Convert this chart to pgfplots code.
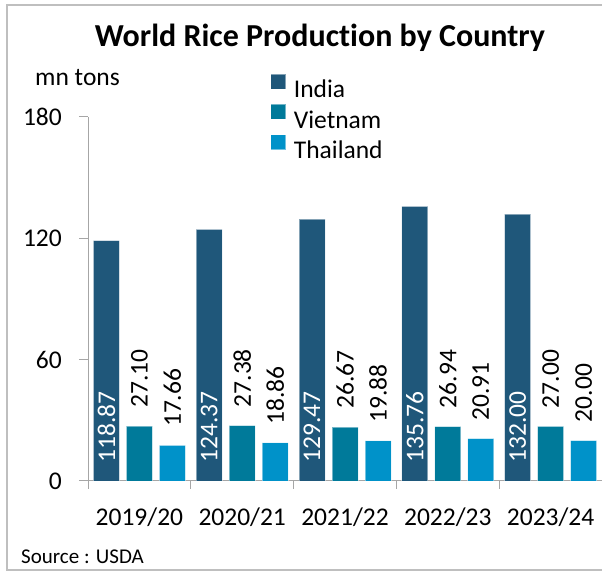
\documentclass[border=0pt]{standalone}
\usepackage{fontspec}
\setmainfont{Carlito}[Ligatures=NoCommon]
\usepackage{pgfplots}
\pgfplotsset{compat=1.18}
\definecolor{cIndia}{RGB}{31,87,122}
\definecolor{cViet}{RGB}{0,122,154}
\definecolor{cThai}{RGB}{0,146,201}
\definecolor{axgray}{RGB}{166,166,166}
\definecolor{frgray}{RGB}{191,191,191}
\newcommand\bigf{\fontsize{25.5bp}{30bp}\selectfont}
\pgfplotsset{
  sq/.style={legend image code/.code={\fill[##1] (0bp,1bp) rectangle (15bp,16bp);}},
  lab/.style={nodes near coords={\pgfmathprintnumber[fixed,fixed zerofill,precision=2,assume math mode=true]{\pgfplotspointmeta}}},
}
\begin{document}
\begin{tikzpicture}
\useasboundingbox (0,0) rectangle (602bp,572bp);
\draw[frgray, line width=2bp] (612bp,567bp) -- (7bp,567bp) -- (7bp,2bp) -- (612bp,2bp);
\begin{axis}[
  at={(88bp,91bp)}, anchor=south west,
  scale only axis, width=514bp, height=364bp,
  xmin=-0.5, xmax=4.5, ymin=0, ymax=180,
  enlargelimits=false, clip=false,
  ytick={0,60,120,180},
  xtick={0,1,2,3,4},
  xticklabels={2019/20,2020/21,2021/22,2022/23,2023/24},
  minor xtick={-0.5,0.5,1.5,2.5,3.5,4.5},
  axis lines*=left,
  axis line style={draw=axgray, line width=1bp, -},
  tick style={draw=axgray, line width=1bp},
  tick align=outside,
  major tick length=9bp, minor tick length=8bp,
  major x tick style={draw=none},
  /pgf/number format/assume math mode=true,
  tick label style={font=\bigf, text=black},
  yticklabel style={inner sep=0pt, xshift=-17bp},
  xticklabel style={inner sep=0pt, yshift=-18bp},
  ybar, bar width=26bp,
  legend style={draw=none, fill=none, font=\bigf, inner sep=0pt,
    at={(axis description cs:0.354,1.12)}, anchor=north west,
    column sep=8bp, row sep=4.5bp, nodes={inner sep=0pt}},
  legend cell align=left,
]
\addplot[fill=cIndia, draw=white, draw opacity=0.45, line width=0.75bp, bar shift=-33bp, sq, lab,
  visualization depends on=rawy\as\rawy,
  every node near coord/.append style={shift={(axis direction cs:0,-\rawy)}, yshift=18bp, rotate=90, anchor=west, inner sep=0pt, font=\bigf, text=white}]
  coordinates {(0,118.87) (1,124.37) (2,129.47) (3,135.76) (4,132.00)};
\addlegendentry{India}
\addplot[fill=cViet, draw=white, draw opacity=0.45, line width=0.75bp, bar shift=0bp, sq, lab,
  every node near coord/.append style={yshift=18bp, rotate=90, anchor=west, inner sep=0pt, font=\bigf, text=black}]
  coordinates {(0,27.10) (1,27.38) (2,26.67) (3,26.94) (4,27.00)};
\addlegendentry{Vietnam}
\addplot[fill=cThai, draw=white, draw opacity=0.45, line width=0.75bp, bar shift=33bp, sq, lab,
  every node near coord/.append style={yshift=18bp, rotate=90, anchor=west, inner sep=0pt, font=\bigf, text=black}]
  coordinates {(0,17.66) (1,18.86) (2,19.88) (3,20.91) (4,20.00)};
\addlegendentry{Thailand}
\end{axis}
\node[font=\fontsize{32bp}{36bp}\selectfont\bfseries, inner sep=0pt] at (320bp,534bp) {World Rice Production by Country};
\node[font=\bigf, inner sep=0pt, anchor=west] at (35bp,494bp) {mn tons};
\node[font=\fontsize{21bp}{25bp}\selectfont, inner sep=0pt, anchor=west] at (21bp,15bp) {Source : USDA};
\end{tikzpicture}
\end{document}
